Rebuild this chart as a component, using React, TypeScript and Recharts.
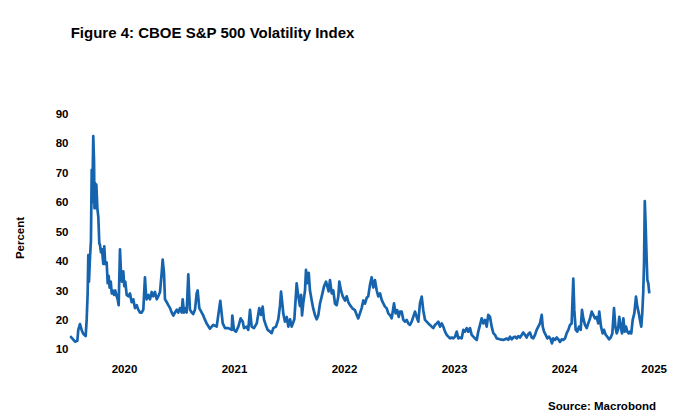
import React from "react";
import { LineChart, Line, XAxis, YAxis } from "recharts";

const dates = [
  2020.005, 2020.025, 2020.05, 2020.071, 2020.08, 2020.095, 2020.111, 2020.125, 2020.147, 2020.156,
  2020.165, 2020.171, 2020.177, 2020.186, 2020.195, 2020.202, 2020.207, 2020.216, 2020.223, 2020.227,
  2020.232, 2020.238, 2020.244, 2020.253, 2020.262, 2020.271, 2020.277, 2020.286, 2020.295, 2020.307,
  2020.316, 2020.325, 2020.338, 2020.347, 2020.356, 2020.365, 2020.375, 2020.384, 2020.393, 2020.405,
  2020.416, 2020.429, 2020.438, 2020.447, 2020.459, 2020.468, 2020.477, 2020.489, 2020.498, 2020.507,
  2020.52, 2020.535, 2020.55, 2020.565, 2020.58, 2020.595, 2020.611, 2020.625, 2020.641, 2020.656,
  2020.671, 2020.686, 2020.695, 2020.702, 2020.716, 2020.732, 2020.747, 2020.762, 2020.777, 2020.793,
  2020.807, 2020.823, 2020.838, 2020.847, 2020.859, 2020.868, 2020.884, 2020.898, 2020.914, 2020.929,
  2020.944, 2020.959, 2020.975, 2020.989, 2021.005, 2021.02, 2021.029, 2021.041, 2021.056, 2021.065,
  2021.08, 2021.089, 2021.095, 2021.111, 2021.125, 2021.141, 2021.156, 2021.165, 2021.18, 2021.202,
  2021.216, 2021.232, 2021.247, 2021.277, 2021.307, 2021.338, 2021.371, 2021.393, 2021.414, 2021.444,
  2021.475, 2021.48, 2021.495, 2021.514, 2021.535, 2021.556, 2021.575, 2021.586, 2021.611, 2021.625,
  2021.641, 2021.656, 2021.677, 2021.702, 2021.725, 2021.741, 2021.756, 2021.768, 2021.784, 2021.802,
  2021.823, 2021.838, 2021.853, 2021.877, 2021.898, 2021.914, 2021.923, 2021.935, 2021.944, 2021.959,
  2021.975, 2021.989, 2022.005, 2022.02, 2022.044, 2022.065, 2022.08, 2022.095, 2022.105, 2022.114,
  2022.125, 2022.141, 2022.15, 2022.162, 2022.175, 2022.186, 2022.202, 2022.216, 2022.232, 2022.247,
  2022.262, 2022.277, 2022.293, 2022.314, 2022.332, 2022.344, 2022.356, 2022.368, 2022.384, 2022.398,
  2022.414, 2022.429, 2022.444, 2022.453, 2022.468, 2022.484, 2022.505, 2022.52, 2022.535, 2022.55,
  2022.575, 2022.595, 2022.611, 2022.625, 2022.641, 2022.656, 2022.671, 2022.686, 2022.702, 2022.716,
  2022.732, 2022.747, 2022.762, 2022.777, 2022.793, 2022.807, 2022.823, 2022.838, 2022.853, 2022.868,
  2022.884, 2022.898, 2022.914, 2022.929, 2022.95, 2022.965, 2022.98, 2022.993, 2023.005, 2023.02,
  2023.035, 2023.05, 2023.065, 2023.08, 2023.095, 2023.111, 2023.125, 2023.141, 2023.156, 2023.171,
  2023.186, 2023.202, 2023.216, 2023.232, 2023.247, 2023.262, 2023.277, 2023.293, 2023.307, 2023.323,
  2023.338, 2023.353, 2023.368, 2023.384, 2023.398, 2023.414, 2023.429, 2023.444, 2023.459, 2023.475,
  2023.489, 2023.505, 2023.52, 2023.535, 2023.55, 2023.565, 2023.58, 2023.595, 2023.611, 2023.625,
  2023.641, 2023.656, 2023.671, 2023.686, 2023.702, 2023.716, 2023.732, 2023.747, 2023.762, 2023.777,
  2023.793, 2023.807, 2023.823, 2023.838, 2023.853, 2023.868, 2023.884, 2023.914, 2023.944, 2023.975,
  2023.989, 2024.005, 2024.02, 2024.035, 2024.05, 2024.065, 2024.08, 2024.095, 2024.111, 2024.125,
  2024.141, 2024.156, 2024.171, 2024.186, 2024.202, 2024.216, 2024.232, 2024.247, 2024.262, 2024.277,
  2024.293, 2024.302, 2024.314, 2024.329, 2024.344, 2024.359, 2024.375, 2024.386, 2024.398, 2024.414,
  2024.429, 2024.444, 2024.459, 2024.475, 2024.489, 2024.505, 2024.52, 2024.535, 2024.55, 2024.565,
  2024.58, 2024.589, 2024.602, 2024.616, 2024.632, 2024.647, 2024.659, 2024.671, 2024.686, 2024.702,
  2024.716, 2024.732, 2024.747, 2024.762, 2024.777, 2024.793, 2024.807, 2024.816, 2024.832, 2024.847,
  2024.859, 2024.875, 2024.889, 2024.905, 2024.92, 2024.935, 2024.95, 2024.962, 2024.975, 2024.986,
  2024.998, 2025.011, 2025.023, 2025.035, 2025.047, 2025.059, 2025.071, 2025.084, 2025.095, 2025.107,
  2025.12, 2025.135, 2025.15, 2025.162, 2025.175, 2025.186, 2025.198, 2025.207, 2025.216, 2025.223,
  2025.23, 2025.239, 2025.247, 2025.253, 2025.262, 2025.271,
];

const vix = [
  14.5, 13.7, 12.6, 12.9, 16.6, 18.6, 16.5, 15.3, 14.5, 20,
  29, 42, 33, 41, 47, 71, 60, 82.5, 74, 58,
  66.5, 58, 66, 58, 55, 46, 45.5, 43, 44, 39,
  45, 39, 39.5, 32.5, 35, 31, 33, 29, 30, 28.5,
  30, 28, 27, 25, 44, 36, 33, 36.5, 31.5, 33,
  28.5, 28, 29, 26, 27, 24, 25, 23.5, 22.5, 22.5,
  23.5, 34.5, 29, 27, 28.5, 27, 29.5, 28, 29.5, 27,
  28, 29.5, 36, 40.5, 36, 27, 26, 25, 24, 22.5,
  21.5, 22.5, 23.5, 22.5, 24, 22.5, 27, 22.5, 24, 22.5,
  35.5, 28, 23.5, 22.5, 22, 23.5, 29, 30, 24, 22.5,
  21.5, 20, 18.8, 17, 18.3, 17.7, 26.5, 18.8, 17.2, 17.2,
  16.6, 21.5, 16.6, 16, 17.7, 20.5, 19.4, 17.2, 17.7, 16.6,
  23.4, 17.7, 17.2, 18.8, 24, 21.7, 24.5, 20.2, 18.3, 16.6,
  16, 15.5, 17.2, 17.7, 20.2, 25, 29.6, 25.5, 22, 19.4,
  21, 17.7, 20.2, 17.7, 20.2, 32.4, 28, 24.7, 28.5, 21.5,
  25.7, 30, 37, 32.5, 36, 30, 26.6, 23.8, 21.6, 20.2,
  21.6, 25.5, 28, 31.4, 33, 31.4, 29.7, 33.5, 29, 30,
  25.5, 25, 28, 33, 30, 28, 26.6, 28, 26, 25,
  23.8, 23.3, 21.7, 20.5, 22.3, 24, 26.6, 25.5, 27.5, 28,
  32, 34.5, 31, 33.5, 30, 28, 29, 26.8, 25.6, 24.5,
  23.9, 22.2, 21.6, 20.5, 25.6, 22.2, 23.3, 21, 22.8, 22.8,
  20, 19.4, 20, 18.8, 18.3, 19.4, 21, 22.8, 21, 19.4,
  25.6, 27.9, 23.3, 20, 19.4, 18.8, 18.3, 17.7, 17.2, 18.3,
  18.8, 19.4, 17.7, 18.8, 17.7, 16, 14.9, 14.3, 13.7, 14,
  13.7, 14.3, 16, 13.7, 14, 13.7, 16.6, 16, 17.2, 16,
  17.2, 14.9, 14.3, 13.7, 13.2, 16, 18.3, 20.5, 18.8, 20,
  17.7, 21.7, 21, 17.7, 15.5, 14.9, 13.7, 13.4, 13.2, 13.7,
  13.2, 14.3, 13.4, 14, 14.3, 13.7, 14.5, 14, 14.9, 15.7,
  14.9, 14, 15.2, 15.7, 14, 13.7, 14.9, 16.6, 17.7, 18.8,
  21.7, 17.7, 16, 14.9, 13.7, 14.3, 13.4, 12, 13.7, 13.2,
  14, 13.4, 12.5, 13.4, 13.2, 13.7, 15.5, 16.6, 18.3, 18.8,
  34, 23.4, 16.6, 16, 17.7, 16.6, 23.4, 20.5, 18.3, 17.2,
  18.8, 20.5, 22.8, 21.7, 20.5, 21, 18.8, 22.8, 17.7, 15.4,
  16.6, 14.9, 14.3, 13.4, 14, 15.4, 24, 17.7, 15.4, 16.6,
  21, 17.7, 15.4, 20.5, 16, 17.7, 16, 15.4, 16, 15.4,
  20, 22.3, 27.9, 24.5, 22.3, 20, 17.7, 22.3, 29.5, 39.2,
  60.4, 50.6, 40.4, 33.6, 32.4, 29,
];

const yTicks = [10, 20, 30, 40, 50, 60, 70, 80, 90];
const tickYears = [2020, 2021, 2022, 2023, 2024, 2025];
const axisStart = 2020;
const axisEnd = 2025.63;

const data = dates.map((t, i) => ({ t, v: vix[i] }));
const xTicks = tickYears.map(
  (y) => (Math.max(y, axisStart) + Math.min(y + 1, axisEnd)) / 2
);

const FONT = "'Liberation Sans', Arial, Helvetica, sans-serif";
const tickStyle = { fill: "#000", fontSize: 11.5, fontWeight: 700, fontFamily: FONT };

export default function App() {
  return (
    <div style={{ position: "relative", width: 700, height: 412, background: "#fff" }}>
      <style>{"body{margin:0;background:#fff}"}</style>
      <LineChart
        width={700}
        height={412}
        data={data}
        margin={{ top: 114, right: 11.2, bottom: 32.7, left: 9.5 }}
      >
        <XAxis
          type="number"
          dataKey="t"
          domain={[axisStart, axisEnd]}
          ticks={xTicks}
          tickFormatter={(v: number) => String(Math.floor(v))}
          axisLine={false}
          tickLine={false}
          tickSize={0}
          tickMargin={16}
          height={30}
          interval={0}
          tick={tickStyle}
          allowDataOverflow
        />
        <YAxis
          type="number"
          domain={[10, 90]}
          ticks={yTicks}
          axisLine={false}
          tickLine={false}
          tickSize={0}
          tickMargin={1}
          width={60}
          interval={0}
          tick={tickStyle}
        />
        <Line
          type="linear"
          dataKey="v"
          stroke="#1764ae"
          strokeWidth={2.7}
          dot={false}
          isAnimationActive={false}
          strokeLinejoin="round"
        />
      </LineChart>
      <svg
        width={700}
        height={412}
        style={{ position: "absolute", left: 0, top: 0, pointerEvents: "none" }}
      >
        <text x={70.7} y={38} fontFamily={FONT} fontWeight={700} fontSize={15} fill="#000">
          Figure 4: CBOE S&amp;P 500 Volatility Index
        </text>
        <text
          x={24}
          y={238}
          transform="rotate(-90 24 238)"
          textAnchor="middle"
          fontFamily={FONT}
          fontWeight={700}
          fontSize={11.5}
          fill="#000"
        >
          Percent
        </text>
        <text
          x={656}
          y={409.5}
          textAnchor="end"
          fontFamily={FONT}
          fontWeight={700}
          fontSize={11.5}
          fill="#000"
        >
          Source: Macrobond
        </text>
      </svg>
    </div>
  );
}
